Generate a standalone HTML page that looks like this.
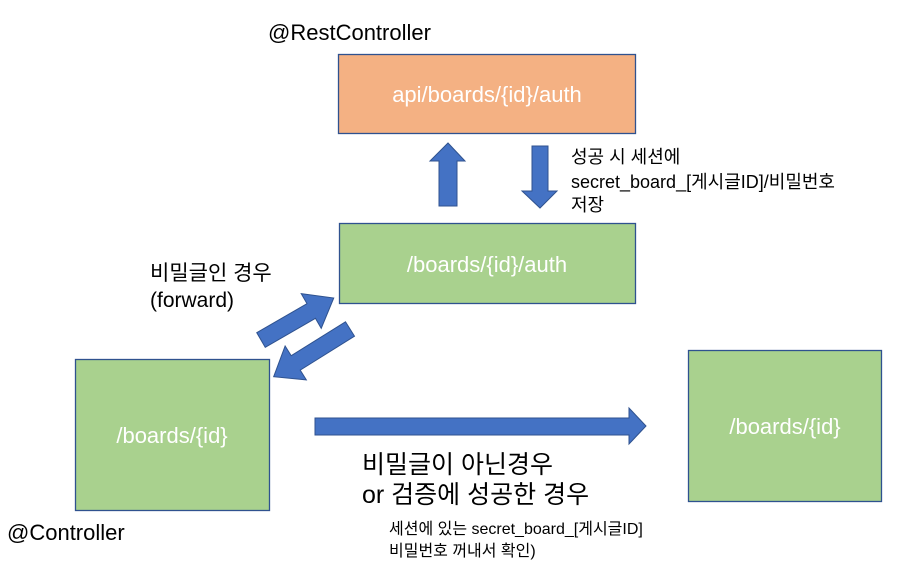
<!DOCTYPE html>
<html><head><meta charset="utf-8"><style>
body{margin:0;background:#fff}
svg{display:block}
text{font-family:"Liberation Sans","Noto Sans CJK KR",sans-serif}
</style></head><body>
<svg width="919" height="571" viewBox="0 0 919 571" xmlns="http://www.w3.org/2000/svg">
<g stroke="#2F528F" stroke-width="1.3">
<rect x="338.5" y="54.5" width="297" height="79" fill="#F4B183"/>
<rect x="339.5" y="223.5" width="296" height="80" fill="#A9D18E"/>
<rect x="75.5" y="359.5" width="194" height="151" fill="#A9D18E"/>
<rect x="688.5" y="350.5" width="193" height="151" fill="#A9D18E"/>
</g>
<g fill="#4472C4" stroke="#2F528F" stroke-width="1">
<polygon points="439,206 457,206 457,161 465,161 448,143 430,161 439,161"/>
<polygon points="532,146 548,146 548,191 557,191 540,208 522,191 532,191"/>
<polygon points="315,418 629,418 629,408 646,426 629,444 629,435 315,435"/>
<polygon points="0,-8.5 58,-8.5 58,-20 84,0 58,20 58,8.5 0,8.5" transform="translate(261,340) rotate(-30)"/>
<polygon points="0,-8.5 64,-8.5 64,-20 90,0 64,20 64,8.5 0,8.5" transform="translate(350,329) rotate(148)"/>
</g>
<g font-size="22" fill="#fff" text-anchor="middle">
<text x="487" y="102">api/boards/{id}/auth</text>
<text x="487" y="272">/boards/{id}/auth</text>
<text x="172" y="443">/boards/{id}</text>
<text x="785" y="434">/boards/{id}</text>
</g>
<g fill="#000">
<text x="268" y="40" font-size="22">@RestController</text>
<text x="7" y="540" font-size="22">@Controller</text>
<text x="571" y="163" font-size="18">성공 시 세션에</text>
<text x="571" y="188" font-size="18">secret_board_[게시글ID]/비밀번호</text>
<text x="571" y="211" font-size="18">저장</text>
<text x="150" y="280" font-size="21">비밀글인 경우</text>
<text x="150" y="307" font-size="21">(forward)</text>
<text x="362" y="473" font-size="25">비밀글이 아닌경우</text>
<text x="362" y="503" font-size="25">or 검증에 성공한 경우</text>
<text x="389" y="534" font-size="16">세션에 있는 secret_board_[게시글ID]</text>
<text x="389" y="556" font-size="16">비밀번호 꺼내서 확인)</text>
</g>
</svg>
</body></html>
